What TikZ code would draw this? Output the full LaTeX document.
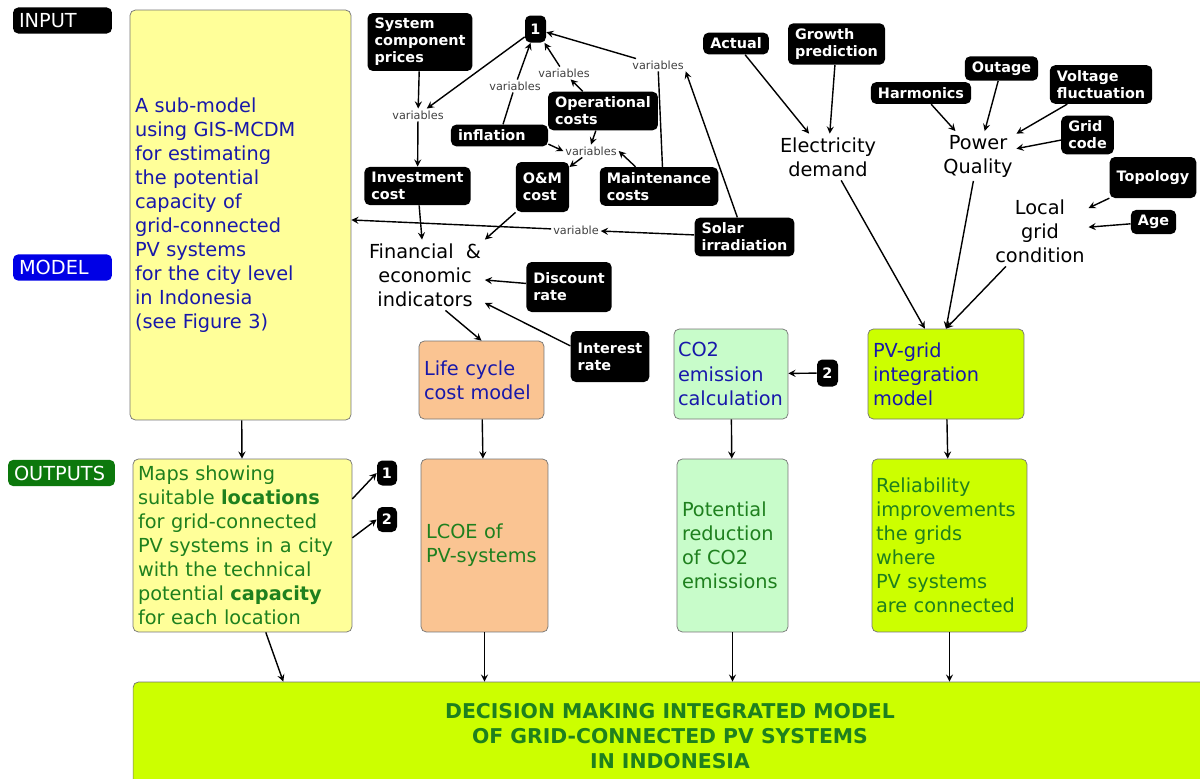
\documentclass[tikz,border=0pt]{standalone}
\usepackage{fontspec}
\setmainfont{DejaVu Sans}
\usetikzlibrary{shapes,arrows,calc}

\definecolor{subyellow}{RGB}{255,255,153}
\definecolor{peach}{RGB}{250,196,146}
\definecolor{mint}{RGB}{200,252,202}
\definecolor{lime}{RGB}{204,255,0}
\definecolor{modelblue}{RGB}{24,24,170}
\definecolor{outgreen}{RGB}{30,128,30}
\definecolor{tagblue}{RGB}{0,0,230}
\definecolor{taggreen}{RGB}{12,120,12}

\begin{document}
\begin{tikzpicture}[>=stealth, x=0.02cm, y=-0.02cm,
  tagbox/.style={rounded corners=3pt, text=white, minimum height=0.5cm, inner xsep=0.12cm, text width=1.74cm, align=left, font=\fontsize{11}{13}\selectfont},
  conceptbox/.style={fill=black, text=white, rounded corners=3pt, align=left, inner xsep=4pt, inner ysep=3pt, font=\bfseries\fontsize{8.2}{9.6}\selectfont},
  numbox/.style={conceptbox, minimum width=0.42cm, minimum height=0.54cm, inner xsep=1pt, align=center},
  linkword/.style={text=black!75, inner sep=1pt, font=\fontsize{6.4}{7}\selectfont},
  idea/.style={align=center, inner sep=2pt, font=\fontsize{11}{13.7}\selectfont},
  modelbox/.style={draw=black!55, rounded corners=3pt, align=left, inner xsep=0.1cm, font=\fontsize{11}{13.7}\selectfont}]
  \useasboundingbox (0,0) rectangle (1200,778);
  % Row labels
  \node[tagbox, fill=black] (input) at (62.5,20.5) {INPUT};
  \node[tagbox, fill=tagblue] (modeltag) at (62.5,267.5) {MODEL};
  \node[tagbox, fill=taggreen, text width=1.9cm] (outputs) at (61.5,473) {OUTPUTS};
  % Inputs
  \node[conceptbox] (scp) at (420,42) {System\\component\\prices};
  \node[numbox] (one) at (535.5,29) {1};
  \node[conceptbox] (opc) at (603,111) {Operational\\costs};
  \node[conceptbox, text width=1.66cm] (infl) at (499.5,135.5) {inflation};
  \node[conceptbox] (inv) at (417.5,186) {Investment\\cost};
  \node[conceptbox, minimum height=1cm] (om) at (542.5,187) {O\&M\\cost};
  \node[conceptbox] (mnt) at (659,186.5) {Maintenance\\costs};
  \node[conceptbox] (solar) at (744.5,237) {Solar\\irradiation};
  \node[conceptbox, minimum height=1cm] (disc) at (569,287) {Discount\\rate};
  \node[conceptbox, minimum height=1.02cm] (intr) at (610,356.5) {Interest\\rate};
  \node[conceptbox] (actual) at (736,43.5) {Actual};
  \node[conceptbox] (growth) at (836.5,44) {Growth\\prediction};
  \node[conceptbox] (harm) at (921,93) {Harmonics};
  \node[conceptbox] (outage) at (1001.5,68.5) {Outage};
  \node[conceptbox] (volt) at (1101,84.5) {Voltage\\fluctuation};
  \node[conceptbox] (gridcode) at (1087.5,135) {Grid\\code};
  \node[conceptbox, minimum height=0.82cm] (topo) at (1153,177.5) {Topology};
  \node[conceptbox] (age) at (1153.5,222) {Age};
  \node[numbox] (two) at (827.5,373) {2};
  \node[numbox, minimum width=0.4cm, minimum height=0.5cm] (oneb) at (387,473) {1};
  \node[numbox, minimum width=0.4cm, minimum height=0.5cm] (twob) at (387,519.5) {2};
  % Linking words
  \node[linkword] (va) at (418,115) {variables};
  \node[linkword] (vb) at (515,86) {variables};
  \node[linkword] (vc) at (564,73) {variables};
  \node[linkword] (vd) at (658,65) {variables};
  \node[linkword] (ve) at (591,151) {variables};
  \node[linkword] (vf) at (576,230) {variable};
  % Intermediate concepts
  \node[idea] (fin) at (425,275) {Financial~~\&\\economic\\indicators};
  \node[idea] (elec) at (828,157) {Electricity\\demand};
  \node[idea] (pq) at (978,156) {Power\\Quality};
  \node[idea] (lgc) at (1040,231) {Local\\grid\\condition};
  % Models
  \node[modelbox, fill=subyellow, text=modelblue, text width=4.22cm, minimum height=8.2cm] (sub) at (240.5,215) {A sub-model\\using GIS-MCDM\\for estimating\\the potential\\capacity of\\grid-connected\\PV systems\\for the city level\\in Indonesia\\(see Figure 3)};
  \node[modelbox, fill=peach, text=modelblue, text width=2.3cm, minimum height=1.56cm] (lcc) at (481.5,380) {Life cycle\\cost model};
  \node[modelbox, fill=mint, text=modelblue, inner xsep=0.08cm, text width=2.12cm, minimum height=1.8cm] (co2) at (731,374) {CO2\\emission\\calculation};
  \node[modelbox, fill=lime, text=modelblue, text width=2.92cm, minimum height=1.8cm] (pvg) at (946,374) {PV-grid\\integration\\model};
  % Outputs
  \node[modelbox, fill=subyellow, text=outgreen, text width=4.18cm, minimum height=3.46cm] (maps) at (242.5,545.5) {Maps showing\\suitable \textbf{locations}\\for grid-connected\\PV systems in a city\\with the technical\\potential \textbf{capacity}\\for each location};
  \node[modelbox, fill=peach, text=outgreen, text width=2.34cm, minimum height=3.46cm] (lcoe) at (484.5,545.5) {LCOE of\\PV-systems};
  \node[modelbox, fill=mint, text=outgreen, text width=2.02cm, minimum height=3.46cm] (pot) at (732.5,545.5) {Potential\\reduction\\of CO2\\emissions};
  \node[modelbox, fill=lime, text=outgreen, inner xsep=0.08cm, text width=2.94cm, minimum height=3.46cm] (rel) at (949.5,545.5) {Reliability\\improvements\\the grids\\where\\PV systems\\are connected};
  \node[draw=black!55, fill=lime, rounded corners=3pt, minimum width=21.48cm, minimum height=2.16cm, align=center, text=outgreen, font=\bfseries\fontsize{11.6}{14.2}\selectfont] (dec) at (670,736) {DECISION MAKING INTEGRATED MODEL\\OF GRID-CONNECTED PV SYSTEMS\\IN INDONESIA};
  % Cost links
  \draw[->,thick] (scp) -- (va);
  \draw[->,thick] (va) -- (inv);
  \draw[->,thick] (one) -- (va);
  \draw[thick] (infl) -- (vb);
  \draw[->,thick] (vb) -- (one);
  \draw[->,thick] (opc) -- (vc);
  \draw[->,thick] (vc) -- (one);
  \draw[thick] (mnt.80) -- (vd);
  \draw[->,thick] (solar.110) -- (vd.south east);
  \draw[->,thick] (vd) -- (one);
  \draw[->,thick] (infl.-10) -- (ve.west);
  \draw[->,thick] (opc.250) -- (ve.north);
  \draw[->,thick] (mnt.140) -- (ve.east);
  \draw[->,thick] (ve) -- (om);
  \draw[->,thick] (inv) -- (fin);
  \draw[->,thick] (om.south west) -- (fin.north east);
  \draw[->,thick] (disc) -- (fin);
  \draw[->,thick] (intr.165) -- (fin.-25);
  \draw[->,thick] (fin.300) -- (lcc.north);
  \draw[->,thick] (solar) -- (vf);
  \draw[->,thick] (vf) -- (sub);
  % Grid links
  \draw[->,thick] (actual) -- (elec);
  \draw[->,thick] (growth) -- (elec);
  \draw[->,thick] (harm) -- (pq);
  \draw[->,thick] (outage) -- (pq);
  \draw[->,thick] (volt) -- (pq);
  \draw[->,thick] (gridcode) -- (pq);
  \draw[->,thick] (topo) -- (lgc);
  \draw[->,thick] (age) -- (lgc);
  \draw[->,thick] (elec) -- (pvg.115);
  \draw[->,thick] (pq) -- (pvg.north);
  \draw[->,thick] (lgc) -- (pvg.north);
  \draw[->,thick] (two) -- (co2);
  % Models to outputs
  \draw[->,thick] (sub) -- (maps);
  \draw[->,thick] (lcc) -- (lcoe);
  \draw[->,thick] (co2) -- (pot);
  \draw[->,thick] (pvg) -- (rel);
  \draw[->,thick] (maps.23) -- (oneb.west);
  \draw[->,thick] (maps.4) -- (twob.west);
  % Outputs to decision
  \draw[->,thick] (maps.-75) -- (dec.172);
  \draw[->,thick] (lcoe) -- (lcoe |- dec.north);
  \draw[->,thick] (pot) -- (pot |- dec.north);
  \draw[->,thick] (rel) -- (rel |- dec.north);
\end{tikzpicture}
\end{document}
